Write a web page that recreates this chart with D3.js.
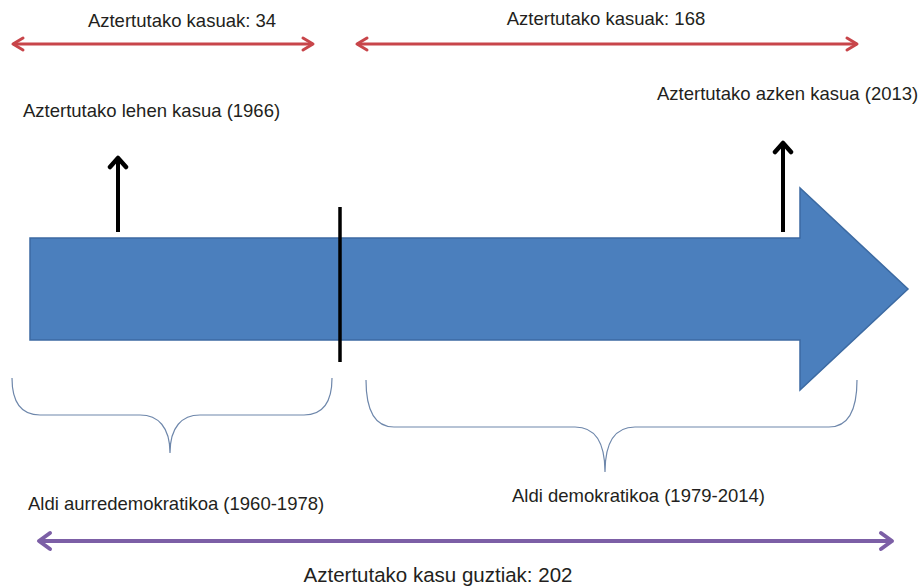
<!DOCTYPE html>
<html>
<head>
<meta charset="utf-8">
<script src="https://cdn.jsdelivr.net/npm/d3@7"></script>
<style>
  body { margin: 0; background: #fff; }
  text { font-family: "Liberation Sans", Arial, Helvetica, sans-serif; font-size: 18.5px; fill: #231f20; }
</style>
</head>
<body>
<div id="chart"></div>
<script>
// timeline data
var periodLabels = ["Aldi aurredemokratikoa (1960-1978)", "Aldi demokratikoa (1979-2014)"];
var periodStart = [1960, 1978.5];
var periodEnd = [1978.5, 2014];
var periodCases = [34, 168];
var totalCases = 202;
var milestoneYears = [1966, 2013];
var milestoneLabels = ["Aztertutako lehen kasua (1966)", "Aztertutako azken kasua (2013)"];

var width = 922, height = 586;

// the picture is not drawn to scale, so the year axis is piecewise
var x = d3.scaleLinear()
  .domain([1960, 1966, 1978.5, 2013, 2014])
  .range([12, 118, 340, 783, 857]);

var svg = d3.select("#chart").append("svg")
  .attr("width", width)
  .attr("height", height);

var defs = svg.append("defs");
function chevron(id, color, w, h, sw) {
  defs.append("marker")
    .attr("id", id)
    .attr("markerUnits", "userSpaceOnUse")
    .attr("viewBox", (-w - 3) + " " + (-h - 3) + " " + (w + 6) + " " + (2 * h + 6))
    .attr("refX", 0).attr("refY", 0)
    .attr("markerWidth", w + 6).attr("markerHeight", 2 * h + 6)
    .attr("orient", "auto-start-reverse")
    .append("path")
    .attr("d", "M" + (-w) + "," + (-h) + " L0,0 L" + (-w) + "," + h)
    .attr("fill", "none")
    .attr("stroke", color)
    .attr("stroke-width", sw)
    .attr("stroke-linecap", "round")
    .attr("stroke-linejoin", "round");
}
chevron("redHead", "#c8454a", 10, 6, 3);
chevron("purpleHead", "#7c5fa6", 11, 8, 4);
chevron("blackHead", "#000", 9, 8, 4.5);

// red arrows: cases per period
var redInset = [[1, 27], [17, 0]];
svg.selectAll(".period-arrow")
  .data(periodCases)
  .enter().append("line")
  .attr("class", "period-arrow")
  .attr("x1", function(d, i) { return x(periodStart[i]) + redInset[i][0]; })
  .attr("x2", function(d, i) { return x(periodEnd[i]) - redInset[i][1]; })
  .attr("y1", 44).attr("y2", 44)
  .attr("stroke", "#c8454a")
  .attr("stroke-width", 3)
  .attr("marker-start", "url(#redHead)")
  .attr("marker-end", "url(#redHead)");

var caseLabelX = [182, 606];
svg.selectAll(".case-label")
  .data(periodCases)
  .enter().append("text")
  .attr("class", "case-label")
  .attr("x", function(d, i) { return caseLabelX[i]; })
  .attr("y", function(d, i) { return i == 0 ? 27 : 25; })
  .attr("text-anchor", "middle")
  .text(function(d) { return "Aztertutako kasuak: " + d; });

// big blue timeline arrow
var shaftTop = 238, shaftBot = 340, headTop = 188, headBot = 390, tipX = 908;
var headX = x(2013) + 17;
svg.append("path")
  .attr("d", d3.line()([
    [x(1960) + 18, shaftTop], [headX, shaftTop], [headX, headTop],
    [tipX, (headTop + headBot) / 2], [headX, headBot], [headX, shaftBot],
    [x(1960) + 18, shaftBot]
  ]) + "Z")
  .attr("fill", "#4b7fbd")
  .attr("stroke", "#3c6aa2")
  .attr("stroke-width", 1.5);

// divider between the two periods
svg.append("line")
  .attr("x1", x(1978.5)).attr("x2", x(1978.5))
  .attr("y1", 207).attr("y2", 362)
  .attr("stroke", "#000")
  .attr("stroke-width", 3.5);

// first / last case arrows
var milestoneTop = [158, 143];
svg.selectAll(".milestone")
  .data(milestoneYears)
  .enter().append("line")
  .attr("class", "milestone")
  .attr("x1", function(d) { return x(d); })
  .attr("x2", function(d) { return x(d); })
  .attr("y1", 232)
  .attr("y2", function(d, i) { return milestoneTop[i]; })
  .attr("stroke", "#000")
  .attr("stroke-width", 4)
  .attr("marker-end", "url(#blackHead)");

var milestoneLabelX = [23, 657], milestoneLabelY = [117, 100];
svg.selectAll(".milestone-label")
  .data(milestoneLabels)
  .enter().append("text")
  .attr("x", function(d, i) { return milestoneLabelX[i]; })
  .attr("y", function(d, i) { return milestoneLabelY[i]; })
  .text(function(d) { return d; });

// braces under each period
function brace(x0, x1, xt, top, mid, tip) {
  var r = 28;
  return "M" + x0 + "," + top +
    " Q" + x0 + "," + mid + " " + (x0 + r) + "," + mid +
    " L" + (xt - 30) + "," + mid +
    " C" + (xt - 12) + "," + mid + " " + xt + "," + (mid + 12) + " " + xt + "," + tip +
    " C" + xt + "," + (mid + 12) + " " + (xt + 12) + "," + mid + " " + (xt + 30) + "," + mid +
    " L" + (x1 - r) + "," + mid +
    " Q" + x1 + "," + mid + " " + x1 + "," + top;
}
var braceInset = [[0, 8], [26, 0]];
var braceTip = [170, 605];
var braceY = [[378, 415, 453], [380, 427, 472]];
svg.selectAll(".brace")
  .data(periodLabels)
  .enter().append("path")
  .attr("class", "brace")
  .attr("d", function(d, i) {
    return brace(x(periodStart[i]) + braceInset[i][0], x(periodEnd[i]) - braceInset[i][1],
      braceTip[i], braceY[i][0], braceY[i][1], braceY[i][2]);
  })
  .attr("fill", "none")
  .attr("stroke", "#6e87ab")
  .attr("stroke-width", 1.2);

var periodLabelX = [28, 512], periodLabelY = [510, 502];
svg.selectAll(".period-label")
  .data(periodLabels)
  .enter().append("text")
  .attr("x", function(d, i) { return periodLabelX[i]; })
  .attr("y", function(d, i) { return periodLabelY[i]; })
  .text(function(d) { return d; });

// total cases arrow
svg.append("line")
  .attr("x1", 39).attr("x2", 892)
  .attr("y1", 541).attr("y2", 541)
  .attr("stroke", "#7c5fa6")
  .attr("stroke-width", 4)
  .attr("marker-start", "url(#purpleHead)")
  .attr("marker-end", "url(#purpleHead)");

svg.append("text")
  .attr("x", 438).attr("y", 582)
  .attr("text-anchor", "middle")
  .style("font-size", "20.5px")
  .text("Aztertutako kasu guztiak: " + totalCases);
</script>
</body>
</html>
